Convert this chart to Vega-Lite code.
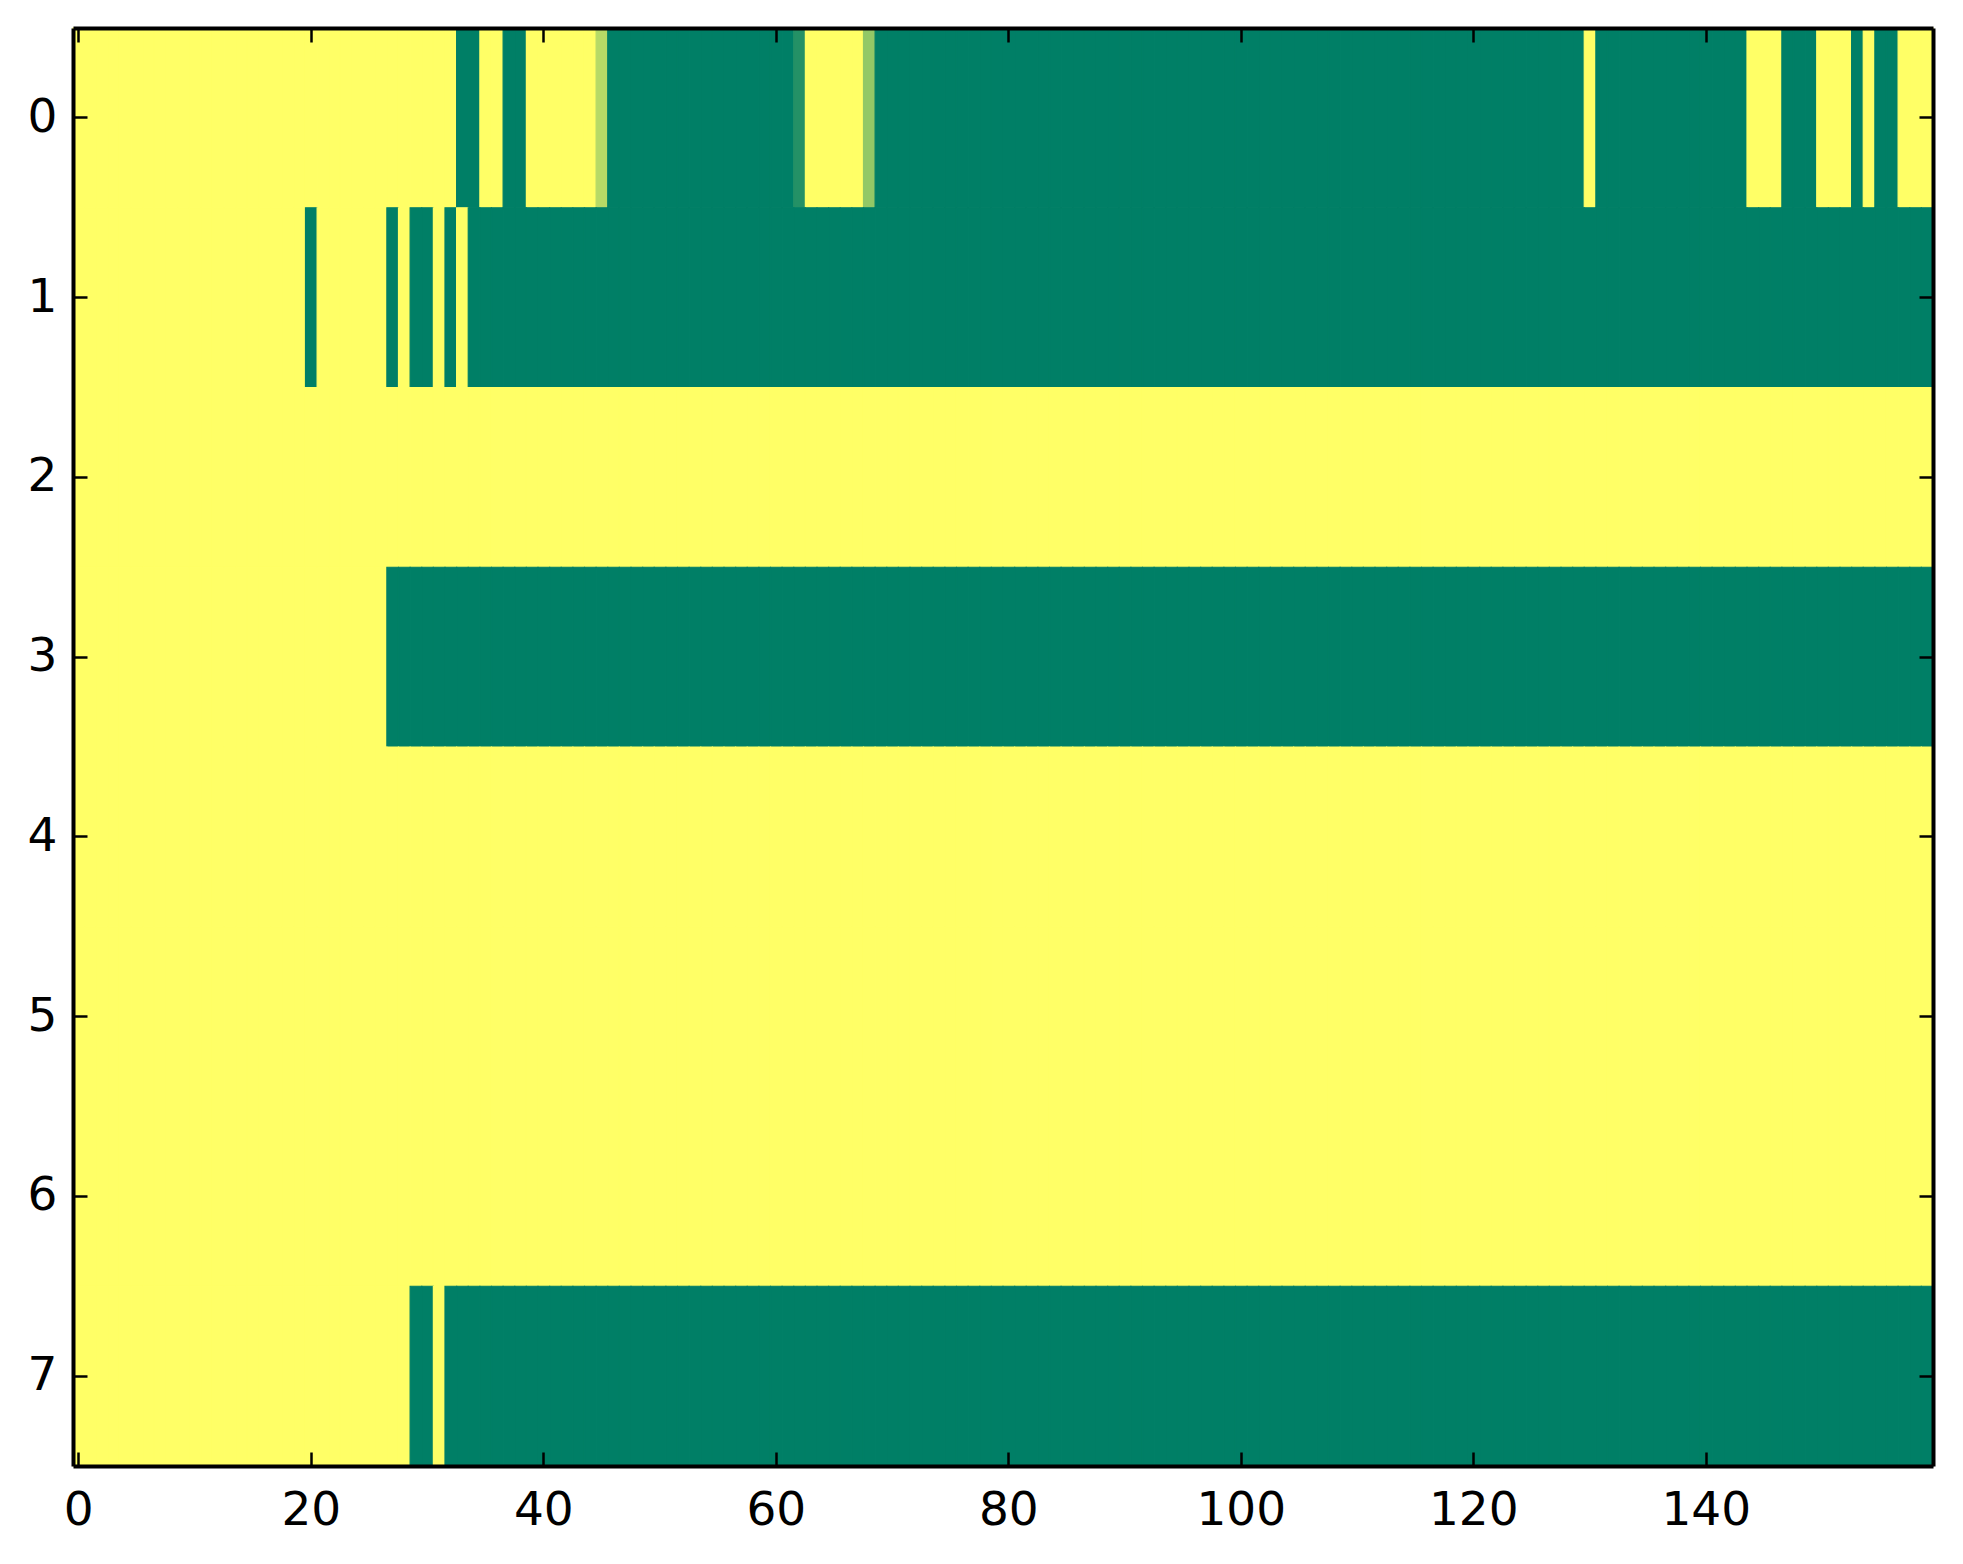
{
"$schema": "https://vega.github.io/schema/vega-lite/v6.json",
"width": 1860, "height": 1438,
"autosize": {"type": "none"},
"padding": {"left": 73, "top": 28, "right": 30, "bottom": 98},
"background": "white",
"config": {"view": {"stroke": null}, "axis": {"labelFont": "DejaVu Sans", "labelFontSize": 47, "labelColor": "black", "tickColor": "black", "domainColor": "black", "domainWidth": 4, "tickWidth": 2.5, "tickSize": -14, "grid": false, "title": null}},
"data": {"values": [
{"r":0,"c":0,"v":1},{"r":0,"c":1,"v":1},{"r":0,"c":2,"v":1},{"r":0,"c":3,"v":1},{"r":0,"c":4,"v":1},{"r":0,"c":5,"v":1},{"r":0,"c":6,"v":1},{"r":0,"c":7,"v":1},{"r":0,"c":8,"v":1},{"r":0,"c":9,"v":1},
{"r":0,"c":10,"v":1},{"r":0,"c":11,"v":1},{"r":0,"c":12,"v":1},{"r":0,"c":13,"v":1},{"r":0,"c":14,"v":1},{"r":0,"c":15,"v":1},{"r":0,"c":16,"v":1},{"r":0,"c":17,"v":1},{"r":0,"c":18,"v":1},{"r":0,"c":19,"v":1},
{"r":0,"c":20,"v":1},{"r":0,"c":21,"v":1},{"r":0,"c":22,"v":1},{"r":0,"c":23,"v":1},{"r":0,"c":24,"v":1},{"r":0,"c":25,"v":1},{"r":0,"c":26,"v":1},{"r":0,"c":27,"v":1},{"r":0,"c":28,"v":1},{"r":0,"c":29,"v":1},
{"r":0,"c":30,"v":1},{"r":0,"c":31,"v":1},{"r":0,"c":32,"v":1},{"r":0,"c":33,"v":0},{"r":0,"c":34,"v":0},{"r":0,"c":35,"v":1},{"r":0,"c":36,"v":1},{"r":0,"c":37,"v":0},{"r":0,"c":38,"v":0},{"r":0,"c":39,"v":1},
{"r":0,"c":40,"v":1},{"r":0,"c":41,"v":1},{"r":0,"c":42,"v":1},{"r":0,"c":43,"v":1},{"r":0,"c":44,"v":1},{"r":0,"c":45,"v":0.714},{"r":0,"c":46,"v":0},{"r":0,"c":47,"v":0},{"r":0,"c":48,"v":0},{"r":0,"c":49,"v":0},
{"r":0,"c":50,"v":0},{"r":0,"c":51,"v":0},{"r":0,"c":52,"v":0},{"r":0,"c":53,"v":0},{"r":0,"c":54,"v":0},{"r":0,"c":55,"v":0},{"r":0,"c":56,"v":0},{"r":0,"c":57,"v":0},{"r":0,"c":58,"v":0},{"r":0,"c":59,"v":0},
{"r":0,"c":60,"v":0},{"r":0,"c":61,"v":0},{"r":0,"c":62,"v":0.143},{"r":0,"c":63,"v":1},{"r":0,"c":64,"v":1},{"r":0,"c":65,"v":1},{"r":0,"c":66,"v":1},{"r":0,"c":67,"v":1},{"r":0,"c":68,"v":0.571},{"r":0,"c":69,"v":0},
{"r":0,"c":70,"v":0},{"r":0,"c":71,"v":0},{"r":0,"c":72,"v":0},{"r":0,"c":73,"v":0},{"r":0,"c":74,"v":0},{"r":0,"c":75,"v":0},{"r":0,"c":76,"v":0},{"r":0,"c":77,"v":0},{"r":0,"c":78,"v":0},{"r":0,"c":79,"v":0},
{"r":0,"c":80,"v":0},{"r":0,"c":81,"v":0},{"r":0,"c":82,"v":0},{"r":0,"c":83,"v":0},{"r":0,"c":84,"v":0},{"r":0,"c":85,"v":0},{"r":0,"c":86,"v":0},{"r":0,"c":87,"v":0},{"r":0,"c":88,"v":0},{"r":0,"c":89,"v":0},
{"r":0,"c":90,"v":0},{"r":0,"c":91,"v":0},{"r":0,"c":92,"v":0},{"r":0,"c":93,"v":0},{"r":0,"c":94,"v":0},{"r":0,"c":95,"v":0},{"r":0,"c":96,"v":0},{"r":0,"c":97,"v":0},{"r":0,"c":98,"v":0},{"r":0,"c":99,"v":0},
{"r":0,"c":100,"v":0},{"r":0,"c":101,"v":0},{"r":0,"c":102,"v":0},{"r":0,"c":103,"v":0},{"r":0,"c":104,"v":0},{"r":0,"c":105,"v":0},{"r":0,"c":106,"v":0},{"r":0,"c":107,"v":0},{"r":0,"c":108,"v":0},{"r":0,"c":109,"v":0},
{"r":0,"c":110,"v":0},{"r":0,"c":111,"v":0},{"r":0,"c":112,"v":0},{"r":0,"c":113,"v":0},{"r":0,"c":114,"v":0},{"r":0,"c":115,"v":0},{"r":0,"c":116,"v":0},{"r":0,"c":117,"v":0},{"r":0,"c":118,"v":0},{"r":0,"c":119,"v":0},
{"r":0,"c":120,"v":0},{"r":0,"c":121,"v":0},{"r":0,"c":122,"v":0},{"r":0,"c":123,"v":0},{"r":0,"c":124,"v":0},{"r":0,"c":125,"v":0},{"r":0,"c":126,"v":0},{"r":0,"c":127,"v":0},{"r":0,"c":128,"v":0},{"r":0,"c":129,"v":0},
{"r":0,"c":130,"v":1},{"r":0,"c":131,"v":0},{"r":0,"c":132,"v":0},{"r":0,"c":133,"v":0},{"r":0,"c":134,"v":0},{"r":0,"c":135,"v":0},{"r":0,"c":136,"v":0},{"r":0,"c":137,"v":0},{"r":0,"c":138,"v":0},{"r":0,"c":139,"v":0},
{"r":0,"c":140,"v":0},{"r":0,"c":141,"v":0},{"r":0,"c":142,"v":0},{"r":0,"c":143,"v":0},{"r":0,"c":144,"v":1},{"r":0,"c":145,"v":1},{"r":0,"c":146,"v":1},{"r":0,"c":147,"v":0},{"r":0,"c":148,"v":0},{"r":0,"c":149,"v":0},
{"r":0,"c":150,"v":1},{"r":0,"c":151,"v":1},{"r":0,"c":152,"v":1},{"r":0,"c":153,"v":0},{"r":0,"c":154,"v":1},{"r":0,"c":155,"v":0},{"r":0,"c":156,"v":0},{"r":0,"c":157,"v":1},{"r":0,"c":158,"v":1},{"r":0,"c":159,"v":1},
{"r":1,"c":0,"v":1},{"r":1,"c":1,"v":1},{"r":1,"c":2,"v":1},{"r":1,"c":3,"v":1},{"r":1,"c":4,"v":1},{"r":1,"c":5,"v":1},{"r":1,"c":6,"v":1},{"r":1,"c":7,"v":1},{"r":1,"c":8,"v":1},{"r":1,"c":9,"v":1},
{"r":1,"c":10,"v":1},{"r":1,"c":11,"v":1},{"r":1,"c":12,"v":1},{"r":1,"c":13,"v":1},{"r":1,"c":14,"v":1},{"r":1,"c":15,"v":1},{"r":1,"c":16,"v":1},{"r":1,"c":17,"v":1},{"r":1,"c":18,"v":1},{"r":1,"c":19,"v":1},
{"r":1,"c":20,"v":0},{"r":1,"c":21,"v":1},{"r":1,"c":22,"v":1},{"r":1,"c":23,"v":1},{"r":1,"c":24,"v":1},{"r":1,"c":25,"v":1},{"r":1,"c":26,"v":1},{"r":1,"c":27,"v":0},{"r":1,"c":28,"v":1},{"r":1,"c":29,"v":0},
{"r":1,"c":30,"v":0},{"r":1,"c":31,"v":1},{"r":1,"c":32,"v":0},{"r":1,"c":33,"v":1},{"r":1,"c":34,"v":0},{"r":1,"c":35,"v":0},{"r":1,"c":36,"v":0},{"r":1,"c":37,"v":0},{"r":1,"c":38,"v":0},{"r":1,"c":39,"v":0},
{"r":1,"c":40,"v":0},{"r":1,"c":41,"v":0},{"r":1,"c":42,"v":0},{"r":1,"c":43,"v":0},{"r":1,"c":44,"v":0},{"r":1,"c":45,"v":0},{"r":1,"c":46,"v":0},{"r":1,"c":47,"v":0},{"r":1,"c":48,"v":0},{"r":1,"c":49,"v":0},
{"r":1,"c":50,"v":0},{"r":1,"c":51,"v":0},{"r":1,"c":52,"v":0},{"r":1,"c":53,"v":0},{"r":1,"c":54,"v":0},{"r":1,"c":55,"v":0},{"r":1,"c":56,"v":0},{"r":1,"c":57,"v":0},{"r":1,"c":58,"v":0},{"r":1,"c":59,"v":0},
{"r":1,"c":60,"v":0},{"r":1,"c":61,"v":0},{"r":1,"c":62,"v":0},{"r":1,"c":63,"v":0},{"r":1,"c":64,"v":0},{"r":1,"c":65,"v":0},{"r":1,"c":66,"v":0},{"r":1,"c":67,"v":0},{"r":1,"c":68,"v":0},{"r":1,"c":69,"v":0},
{"r":1,"c":70,"v":0},{"r":1,"c":71,"v":0},{"r":1,"c":72,"v":0},{"r":1,"c":73,"v":0},{"r":1,"c":74,"v":0},{"r":1,"c":75,"v":0},{"r":1,"c":76,"v":0},{"r":1,"c":77,"v":0},{"r":1,"c":78,"v":0},{"r":1,"c":79,"v":0},
{"r":1,"c":80,"v":0},{"r":1,"c":81,"v":0},{"r":1,"c":82,"v":0},{"r":1,"c":83,"v":0},{"r":1,"c":84,"v":0},{"r":1,"c":85,"v":0},{"r":1,"c":86,"v":0},{"r":1,"c":87,"v":0},{"r":1,"c":88,"v":0},{"r":1,"c":89,"v":0},
{"r":1,"c":90,"v":0},{"r":1,"c":91,"v":0},{"r":1,"c":92,"v":0},{"r":1,"c":93,"v":0},{"r":1,"c":94,"v":0},{"r":1,"c":95,"v":0},{"r":1,"c":96,"v":0},{"r":1,"c":97,"v":0},{"r":1,"c":98,"v":0},{"r":1,"c":99,"v":0},
{"r":1,"c":100,"v":0},{"r":1,"c":101,"v":0},{"r":1,"c":102,"v":0},{"r":1,"c":103,"v":0},{"r":1,"c":104,"v":0},{"r":1,"c":105,"v":0},{"r":1,"c":106,"v":0},{"r":1,"c":107,"v":0},{"r":1,"c":108,"v":0},{"r":1,"c":109,"v":0},
{"r":1,"c":110,"v":0},{"r":1,"c":111,"v":0},{"r":1,"c":112,"v":0},{"r":1,"c":113,"v":0},{"r":1,"c":114,"v":0},{"r":1,"c":115,"v":0},{"r":1,"c":116,"v":0},{"r":1,"c":117,"v":0},{"r":1,"c":118,"v":0},{"r":1,"c":119,"v":0},
{"r":1,"c":120,"v":0},{"r":1,"c":121,"v":0},{"r":1,"c":122,"v":0},{"r":1,"c":123,"v":0},{"r":1,"c":124,"v":0},{"r":1,"c":125,"v":0},{"r":1,"c":126,"v":0},{"r":1,"c":127,"v":0},{"r":1,"c":128,"v":0},{"r":1,"c":129,"v":0},
{"r":1,"c":130,"v":0},{"r":1,"c":131,"v":0},{"r":1,"c":132,"v":0},{"r":1,"c":133,"v":0},{"r":1,"c":134,"v":0},{"r":1,"c":135,"v":0},{"r":1,"c":136,"v":0},{"r":1,"c":137,"v":0},{"r":1,"c":138,"v":0},{"r":1,"c":139,"v":0},
{"r":1,"c":140,"v":0},{"r":1,"c":141,"v":0},{"r":1,"c":142,"v":0},{"r":1,"c":143,"v":0},{"r":1,"c":144,"v":0},{"r":1,"c":145,"v":0},{"r":1,"c":146,"v":0},{"r":1,"c":147,"v":0},{"r":1,"c":148,"v":0},{"r":1,"c":149,"v":0},
{"r":1,"c":150,"v":0},{"r":1,"c":151,"v":0},{"r":1,"c":152,"v":0},{"r":1,"c":153,"v":0},{"r":1,"c":154,"v":0},{"r":1,"c":155,"v":0},{"r":1,"c":156,"v":0},{"r":1,"c":157,"v":0},{"r":1,"c":158,"v":0},{"r":1,"c":159,"v":0},
{"r":2,"c":0,"v":1},{"r":2,"c":1,"v":1},{"r":2,"c":2,"v":1},{"r":2,"c":3,"v":1},{"r":2,"c":4,"v":1},{"r":2,"c":5,"v":1},{"r":2,"c":6,"v":1},{"r":2,"c":7,"v":1},{"r":2,"c":8,"v":1},{"r":2,"c":9,"v":1},
{"r":2,"c":10,"v":1},{"r":2,"c":11,"v":1},{"r":2,"c":12,"v":1},{"r":2,"c":13,"v":1},{"r":2,"c":14,"v":1},{"r":2,"c":15,"v":1},{"r":2,"c":16,"v":1},{"r":2,"c":17,"v":1},{"r":2,"c":18,"v":1},{"r":2,"c":19,"v":1},
{"r":2,"c":20,"v":1},{"r":2,"c":21,"v":1},{"r":2,"c":22,"v":1},{"r":2,"c":23,"v":1},{"r":2,"c":24,"v":1},{"r":2,"c":25,"v":1},{"r":2,"c":26,"v":1},{"r":2,"c":27,"v":1},{"r":2,"c":28,"v":1},{"r":2,"c":29,"v":1},
{"r":2,"c":30,"v":1},{"r":2,"c":31,"v":1},{"r":2,"c":32,"v":1},{"r":2,"c":33,"v":1},{"r":2,"c":34,"v":1},{"r":2,"c":35,"v":1},{"r":2,"c":36,"v":1},{"r":2,"c":37,"v":1},{"r":2,"c":38,"v":1},{"r":2,"c":39,"v":1},
{"r":2,"c":40,"v":1},{"r":2,"c":41,"v":1},{"r":2,"c":42,"v":1},{"r":2,"c":43,"v":1},{"r":2,"c":44,"v":1},{"r":2,"c":45,"v":1},{"r":2,"c":46,"v":1},{"r":2,"c":47,"v":1},{"r":2,"c":48,"v":1},{"r":2,"c":49,"v":1},
{"r":2,"c":50,"v":1},{"r":2,"c":51,"v":1},{"r":2,"c":52,"v":1},{"r":2,"c":53,"v":1},{"r":2,"c":54,"v":1},{"r":2,"c":55,"v":1},{"r":2,"c":56,"v":1},{"r":2,"c":57,"v":1},{"r":2,"c":58,"v":1},{"r":2,"c":59,"v":1},
{"r":2,"c":60,"v":1},{"r":2,"c":61,"v":1},{"r":2,"c":62,"v":1},{"r":2,"c":63,"v":1},{"r":2,"c":64,"v":1},{"r":2,"c":65,"v":1},{"r":2,"c":66,"v":1},{"r":2,"c":67,"v":1},{"r":2,"c":68,"v":1},{"r":2,"c":69,"v":1},
{"r":2,"c":70,"v":1},{"r":2,"c":71,"v":1},{"r":2,"c":72,"v":1},{"r":2,"c":73,"v":1},{"r":2,"c":74,"v":1},{"r":2,"c":75,"v":1},{"r":2,"c":76,"v":1},{"r":2,"c":77,"v":1},{"r":2,"c":78,"v":1},{"r":2,"c":79,"v":1},
{"r":2,"c":80,"v":1},{"r":2,"c":81,"v":1},{"r":2,"c":82,"v":1},{"r":2,"c":83,"v":1},{"r":2,"c":84,"v":1},{"r":2,"c":85,"v":1},{"r":2,"c":86,"v":1},{"r":2,"c":87,"v":1},{"r":2,"c":88,"v":1},{"r":2,"c":89,"v":1},
{"r":2,"c":90,"v":1},{"r":2,"c":91,"v":1},{"r":2,"c":92,"v":1},{"r":2,"c":93,"v":1},{"r":2,"c":94,"v":1},{"r":2,"c":95,"v":1},{"r":2,"c":96,"v":1},{"r":2,"c":97,"v":1},{"r":2,"c":98,"v":1},{"r":2,"c":99,"v":1},
{"r":2,"c":100,"v":1},{"r":2,"c":101,"v":1},{"r":2,"c":102,"v":1},{"r":2,"c":103,"v":1},{"r":2,"c":104,"v":1},{"r":2,"c":105,"v":1},{"r":2,"c":106,"v":1},{"r":2,"c":107,"v":1},{"r":2,"c":108,"v":1},{"r":2,"c":109,"v":1},
{"r":2,"c":110,"v":1},{"r":2,"c":111,"v":1},{"r":2,"c":112,"v":1},{"r":2,"c":113,"v":1},{"r":2,"c":114,"v":1},{"r":2,"c":115,"v":1},{"r":2,"c":116,"v":1},{"r":2,"c":117,"v":1},{"r":2,"c":118,"v":1},{"r":2,"c":119,"v":1},
{"r":2,"c":120,"v":1},{"r":2,"c":121,"v":1},{"r":2,"c":122,"v":1},{"r":2,"c":123,"v":1},{"r":2,"c":124,"v":1},{"r":2,"c":125,"v":1},{"r":2,"c":126,"v":1},{"r":2,"c":127,"v":1},{"r":2,"c":128,"v":1},{"r":2,"c":129,"v":1},
{"r":2,"c":130,"v":1},{"r":2,"c":131,"v":1},{"r":2,"c":132,"v":1},{"r":2,"c":133,"v":1},{"r":2,"c":134,"v":1},{"r":2,"c":135,"v":1},{"r":2,"c":136,"v":1},{"r":2,"c":137,"v":1},{"r":2,"c":138,"v":1},{"r":2,"c":139,"v":1},
{"r":2,"c":140,"v":1},{"r":2,"c":141,"v":1},{"r":2,"c":142,"v":1},{"r":2,"c":143,"v":1},{"r":2,"c":144,"v":1},{"r":2,"c":145,"v":1},{"r":2,"c":146,"v":1},{"r":2,"c":147,"v":1},{"r":2,"c":148,"v":1},{"r":2,"c":149,"v":1},
{"r":2,"c":150,"v":1},{"r":2,"c":151,"v":1},{"r":2,"c":152,"v":1},{"r":2,"c":153,"v":1},{"r":2,"c":154,"v":1},{"r":2,"c":155,"v":1},{"r":2,"c":156,"v":1},{"r":2,"c":157,"v":1},{"r":2,"c":158,"v":1},{"r":2,"c":159,"v":1},
{"r":3,"c":0,"v":1},{"r":3,"c":1,"v":1},{"r":3,"c":2,"v":1},{"r":3,"c":3,"v":1},{"r":3,"c":4,"v":1},{"r":3,"c":5,"v":1},{"r":3,"c":6,"v":1},{"r":3,"c":7,"v":1},{"r":3,"c":8,"v":1},{"r":3,"c":9,"v":1},
{"r":3,"c":10,"v":1},{"r":3,"c":11,"v":1},{"r":3,"c":12,"v":1},{"r":3,"c":13,"v":1},{"r":3,"c":14,"v":1},{"r":3,"c":15,"v":1},{"r":3,"c":16,"v":1},{"r":3,"c":17,"v":1},{"r":3,"c":18,"v":1},{"r":3,"c":19,"v":1},
{"r":3,"c":20,"v":1},{"r":3,"c":21,"v":1},{"r":3,"c":22,"v":1},{"r":3,"c":23,"v":1},{"r":3,"c":24,"v":1},{"r":3,"c":25,"v":1},{"r":3,"c":26,"v":1},{"r":3,"c":27,"v":0},{"r":3,"c":28,"v":0},{"r":3,"c":29,"v":0},
{"r":3,"c":30,"v":0},{"r":3,"c":31,"v":0},{"r":3,"c":32,"v":0},{"r":3,"c":33,"v":0},{"r":3,"c":34,"v":0},{"r":3,"c":35,"v":0},{"r":3,"c":36,"v":0},{"r":3,"c":37,"v":0},{"r":3,"c":38,"v":0},{"r":3,"c":39,"v":0},
{"r":3,"c":40,"v":0},{"r":3,"c":41,"v":0},{"r":3,"c":42,"v":0},{"r":3,"c":43,"v":0},{"r":3,"c":44,"v":0},{"r":3,"c":45,"v":0},{"r":3,"c":46,"v":0},{"r":3,"c":47,"v":0},{"r":3,"c":48,"v":0},{"r":3,"c":49,"v":0},
{"r":3,"c":50,"v":0},{"r":3,"c":51,"v":0},{"r":3,"c":52,"v":0},{"r":3,"c":53,"v":0},{"r":3,"c":54,"v":0},{"r":3,"c":55,"v":0},{"r":3,"c":56,"v":0},{"r":3,"c":57,"v":0},{"r":3,"c":58,"v":0},{"r":3,"c":59,"v":0},
{"r":3,"c":60,"v":0},{"r":3,"c":61,"v":0},{"r":3,"c":62,"v":0},{"r":3,"c":63,"v":0},{"r":3,"c":64,"v":0},{"r":3,"c":65,"v":0},{"r":3,"c":66,"v":0},{"r":3,"c":67,"v":0},{"r":3,"c":68,"v":0},{"r":3,"c":69,"v":0},
{"r":3,"c":70,"v":0},{"r":3,"c":71,"v":0},{"r":3,"c":72,"v":0},{"r":3,"c":73,"v":0},{"r":3,"c":74,"v":0},{"r":3,"c":75,"v":0},{"r":3,"c":76,"v":0},{"r":3,"c":77,"v":0},{"r":3,"c":78,"v":0},{"r":3,"c":79,"v":0},
{"r":3,"c":80,"v":0},{"r":3,"c":81,"v":0},{"r":3,"c":82,"v":0},{"r":3,"c":83,"v":0},{"r":3,"c":84,"v":0},{"r":3,"c":85,"v":0},{"r":3,"c":86,"v":0},{"r":3,"c":87,"v":0},{"r":3,"c":88,"v":0},{"r":3,"c":89,"v":0},
{"r":3,"c":90,"v":0},{"r":3,"c":91,"v":0},{"r":3,"c":92,"v":0},{"r":3,"c":93,"v":0},{"r":3,"c":94,"v":0},{"r":3,"c":95,"v":0},{"r":3,"c":96,"v":0},{"r":3,"c":97,"v":0},{"r":3,"c":98,"v":0},{"r":3,"c":99,"v":0},
{"r":3,"c":100,"v":0},{"r":3,"c":101,"v":0},{"r":3,"c":102,"v":0},{"r":3,"c":103,"v":0},{"r":3,"c":104,"v":0},{"r":3,"c":105,"v":0},{"r":3,"c":106,"v":0},{"r":3,"c":107,"v":0},{"r":3,"c":108,"v":0},{"r":3,"c":109,"v":0},
{"r":3,"c":110,"v":0},{"r":3,"c":111,"v":0},{"r":3,"c":112,"v":0},{"r":3,"c":113,"v":0},{"r":3,"c":114,"v":0},{"r":3,"c":115,"v":0},{"r":3,"c":116,"v":0},{"r":3,"c":117,"v":0},{"r":3,"c":118,"v":0},{"r":3,"c":119,"v":0},
{"r":3,"c":120,"v":0},{"r":3,"c":121,"v":0},{"r":3,"c":122,"v":0},{"r":3,"c":123,"v":0},{"r":3,"c":124,"v":0},{"r":3,"c":125,"v":0},{"r":3,"c":126,"v":0},{"r":3,"c":127,"v":0},{"r":3,"c":128,"v":0},{"r":3,"c":129,"v":0},
{"r":3,"c":130,"v":0},{"r":3,"c":131,"v":0},{"r":3,"c":132,"v":0},{"r":3,"c":133,"v":0},{"r":3,"c":134,"v":0},{"r":3,"c":135,"v":0},{"r":3,"c":136,"v":0},{"r":3,"c":137,"v":0},{"r":3,"c":138,"v":0},{"r":3,"c":139,"v":0},
{"r":3,"c":140,"v":0},{"r":3,"c":141,"v":0},{"r":3,"c":142,"v":0},{"r":3,"c":143,"v":0},{"r":3,"c":144,"v":0},{"r":3,"c":145,"v":0},{"r":3,"c":146,"v":0},{"r":3,"c":147,"v":0},{"r":3,"c":148,"v":0},{"r":3,"c":149,"v":0},
{"r":3,"c":150,"v":0},{"r":3,"c":151,"v":0},{"r":3,"c":152,"v":0},{"r":3,"c":153,"v":0},{"r":3,"c":154,"v":0},{"r":3,"c":155,"v":0},{"r":3,"c":156,"v":0},{"r":3,"c":157,"v":0},{"r":3,"c":158,"v":0},{"r":3,"c":159,"v":0},
{"r":4,"c":0,"v":1},{"r":4,"c":1,"v":1},{"r":4,"c":2,"v":1},{"r":4,"c":3,"v":1},{"r":4,"c":4,"v":1},{"r":4,"c":5,"v":1},{"r":4,"c":6,"v":1},{"r":4,"c":7,"v":1},{"r":4,"c":8,"v":1},{"r":4,"c":9,"v":1},
{"r":4,"c":10,"v":1},{"r":4,"c":11,"v":1},{"r":4,"c":12,"v":1},{"r":4,"c":13,"v":1},{"r":4,"c":14,"v":1},{"r":4,"c":15,"v":1},{"r":4,"c":16,"v":1},{"r":4,"c":17,"v":1},{"r":4,"c":18,"v":1},{"r":4,"c":19,"v":1},
{"r":4,"c":20,"v":1},{"r":4,"c":21,"v":1},{"r":4,"c":22,"v":1},{"r":4,"c":23,"v":1},{"r":4,"c":24,"v":1},{"r":4,"c":25,"v":1},{"r":4,"c":26,"v":1},{"r":4,"c":27,"v":1},{"r":4,"c":28,"v":1},{"r":4,"c":29,"v":1},
{"r":4,"c":30,"v":1},{"r":4,"c":31,"v":1},{"r":4,"c":32,"v":1},{"r":4,"c":33,"v":1},{"r":4,"c":34,"v":1},{"r":4,"c":35,"v":1},{"r":4,"c":36,"v":1},{"r":4,"c":37,"v":1},{"r":4,"c":38,"v":1},{"r":4,"c":39,"v":1},
{"r":4,"c":40,"v":1},{"r":4,"c":41,"v":1},{"r":4,"c":42,"v":1},{"r":4,"c":43,"v":1},{"r":4,"c":44,"v":1},{"r":4,"c":45,"v":1},{"r":4,"c":46,"v":1},{"r":4,"c":47,"v":1},{"r":4,"c":48,"v":1},{"r":4,"c":49,"v":1},
{"r":4,"c":50,"v":1},{"r":4,"c":51,"v":1},{"r":4,"c":52,"v":1},{"r":4,"c":53,"v":1},{"r":4,"c":54,"v":1},{"r":4,"c":55,"v":1},{"r":4,"c":56,"v":1},{"r":4,"c":57,"v":1},{"r":4,"c":58,"v":1},{"r":4,"c":59,"v":1},
{"r":4,"c":60,"v":1},{"r":4,"c":61,"v":1},{"r":4,"c":62,"v":1},{"r":4,"c":63,"v":1},{"r":4,"c":64,"v":1},{"r":4,"c":65,"v":1},{"r":4,"c":66,"v":1},{"r":4,"c":67,"v":1},{"r":4,"c":68,"v":1},{"r":4,"c":69,"v":1},
{"r":4,"c":70,"v":1},{"r":4,"c":71,"v":1},{"r":4,"c":72,"v":1},{"r":4,"c":73,"v":1},{"r":4,"c":74,"v":1},{"r":4,"c":75,"v":1},{"r":4,"c":76,"v":1},{"r":4,"c":77,"v":1},{"r":4,"c":78,"v":1},{"r":4,"c":79,"v":1},
{"r":4,"c":80,"v":1},{"r":4,"c":81,"v":1},{"r":4,"c":82,"v":1},{"r":4,"c":83,"v":1},{"r":4,"c":84,"v":1},{"r":4,"c":85,"v":1},{"r":4,"c":86,"v":1},{"r":4,"c":87,"v":1},{"r":4,"c":88,"v":1},{"r":4,"c":89,"v":1},
{"r":4,"c":90,"v":1},{"r":4,"c":91,"v":1},{"r":4,"c":92,"v":1},{"r":4,"c":93,"v":1},{"r":4,"c":94,"v":1},{"r":4,"c":95,"v":1},{"r":4,"c":96,"v":1},{"r":4,"c":97,"v":1},{"r":4,"c":98,"v":1},{"r":4,"c":99,"v":1},
{"r":4,"c":100,"v":1},{"r":4,"c":101,"v":1},{"r":4,"c":102,"v":1},{"r":4,"c":103,"v":1},{"r":4,"c":104,"v":1},{"r":4,"c":105,"v":1},{"r":4,"c":106,"v":1},{"r":4,"c":107,"v":1},{"r":4,"c":108,"v":1},{"r":4,"c":109,"v":1},
{"r":4,"c":110,"v":1},{"r":4,"c":111,"v":1},{"r":4,"c":112,"v":1},{"r":4,"c":113,"v":1},{"r":4,"c":114,"v":1},{"r":4,"c":115,"v":1},{"r":4,"c":116,"v":1},{"r":4,"c":117,"v":1},{"r":4,"c":118,"v":1},{"r":4,"c":119,"v":1},
{"r":4,"c":120,"v":1},{"r":4,"c":121,"v":1},{"r":4,"c":122,"v":1},{"r":4,"c":123,"v":1},{"r":4,"c":124,"v":1},{"r":4,"c":125,"v":1},{"r":4,"c":126,"v":1},{"r":4,"c":127,"v":1},{"r":4,"c":128,"v":1},{"r":4,"c":129,"v":1},
{"r":4,"c":130,"v":1},{"r":4,"c":131,"v":1},{"r":4,"c":132,"v":1},{"r":4,"c":133,"v":1},{"r":4,"c":134,"v":1},{"r":4,"c":135,"v":1},{"r":4,"c":136,"v":1},{"r":4,"c":137,"v":1},{"r":4,"c":138,"v":1},{"r":4,"c":139,"v":1},
{"r":4,"c":140,"v":1},{"r":4,"c":141,"v":1},{"r":4,"c":142,"v":1},{"r":4,"c":143,"v":1},{"r":4,"c":144,"v":1},{"r":4,"c":145,"v":1},{"r":4,"c":146,"v":1},{"r":4,"c":147,"v":1},{"r":4,"c":148,"v":1},{"r":4,"c":149,"v":1},
{"r":4,"c":150,"v":1},{"r":4,"c":151,"v":1},{"r":4,"c":152,"v":1},{"r":4,"c":153,"v":1},{"r":4,"c":154,"v":1},{"r":4,"c":155,"v":1},{"r":4,"c":156,"v":1},{"r":4,"c":157,"v":1},{"r":4,"c":158,"v":1},{"r":4,"c":159,"v":1},
{"r":5,"c":0,"v":1},{"r":5,"c":1,"v":1},{"r":5,"c":2,"v":1},{"r":5,"c":3,"v":1},{"r":5,"c":4,"v":1},{"r":5,"c":5,"v":1},{"r":5,"c":6,"v":1},{"r":5,"c":7,"v":1},{"r":5,"c":8,"v":1},{"r":5,"c":9,"v":1},
{"r":5,"c":10,"v":1},{"r":5,"c":11,"v":1},{"r":5,"c":12,"v":1},{"r":5,"c":13,"v":1},{"r":5,"c":14,"v":1},{"r":5,"c":15,"v":1},{"r":5,"c":16,"v":1},{"r":5,"c":17,"v":1},{"r":5,"c":18,"v":1},{"r":5,"c":19,"v":1},
{"r":5,"c":20,"v":1},{"r":5,"c":21,"v":1},{"r":5,"c":22,"v":1},{"r":5,"c":23,"v":1},{"r":5,"c":24,"v":1},{"r":5,"c":25,"v":1},{"r":5,"c":26,"v":1},{"r":5,"c":27,"v":1},{"r":5,"c":28,"v":1},{"r":5,"c":29,"v":1},
{"r":5,"c":30,"v":1},{"r":5,"c":31,"v":1},{"r":5,"c":32,"v":1},{"r":5,"c":33,"v":1},{"r":5,"c":34,"v":1},{"r":5,"c":35,"v":1},{"r":5,"c":36,"v":1},{"r":5,"c":37,"v":1},{"r":5,"c":38,"v":1},{"r":5,"c":39,"v":1},
{"r":5,"c":40,"v":1},{"r":5,"c":41,"v":1},{"r":5,"c":42,"v":1},{"r":5,"c":43,"v":1},{"r":5,"c":44,"v":1},{"r":5,"c":45,"v":1},{"r":5,"c":46,"v":1},{"r":5,"c":47,"v":1},{"r":5,"c":48,"v":1},{"r":5,"c":49,"v":1},
{"r":5,"c":50,"v":1},{"r":5,"c":51,"v":1},{"r":5,"c":52,"v":1},{"r":5,"c":53,"v":1},{"r":5,"c":54,"v":1},{"r":5,"c":55,"v":1},{"r":5,"c":56,"v":1},{"r":5,"c":57,"v":1},{"r":5,"c":58,"v":1},{"r":5,"c":59,"v":1},
{"r":5,"c":60,"v":1},{"r":5,"c":61,"v":1},{"r":5,"c":62,"v":1},{"r":5,"c":63,"v":1},{"r":5,"c":64,"v":1},{"r":5,"c":65,"v":1},{"r":5,"c":66,"v":1},{"r":5,"c":67,"v":1},{"r":5,"c":68,"v":1},{"r":5,"c":69,"v":1},
{"r":5,"c":70,"v":1},{"r":5,"c":71,"v":1},{"r":5,"c":72,"v":1},{"r":5,"c":73,"v":1},{"r":5,"c":74,"v":1},{"r":5,"c":75,"v":1},{"r":5,"c":76,"v":1},{"r":5,"c":77,"v":1},{"r":5,"c":78,"v":1},{"r":5,"c":79,"v":1},
{"r":5,"c":80,"v":1},{"r":5,"c":81,"v":1},{"r":5,"c":82,"v":1},{"r":5,"c":83,"v":1},{"r":5,"c":84,"v":1},{"r":5,"c":85,"v":1},{"r":5,"c":86,"v":1},{"r":5,"c":87,"v":1},{"r":5,"c":88,"v":1},{"r":5,"c":89,"v":1},
{"r":5,"c":90,"v":1},{"r":5,"c":91,"v":1},{"r":5,"c":92,"v":1},{"r":5,"c":93,"v":1},{"r":5,"c":94,"v":1},{"r":5,"c":95,"v":1},{"r":5,"c":96,"v":1},{"r":5,"c":97,"v":1},{"r":5,"c":98,"v":1},{"r":5,"c":99,"v":1},
{"r":5,"c":100,"v":1},{"r":5,"c":101,"v":1},{"r":5,"c":102,"v":1},{"r":5,"c":103,"v":1},{"r":5,"c":104,"v":1},{"r":5,"c":105,"v":1},{"r":5,"c":106,"v":1},{"r":5,"c":107,"v":1},{"r":5,"c":108,"v":1},{"r":5,"c":109,"v":1},
{"r":5,"c":110,"v":1},{"r":5,"c":111,"v":1},{"r":5,"c":112,"v":1},{"r":5,"c":113,"v":1},{"r":5,"c":114,"v":1},{"r":5,"c":115,"v":1},{"r":5,"c":116,"v":1},{"r":5,"c":117,"v":1},{"r":5,"c":118,"v":1},{"r":5,"c":119,"v":1},
{"r":5,"c":120,"v":1},{"r":5,"c":121,"v":1},{"r":5,"c":122,"v":1},{"r":5,"c":123,"v":1},{"r":5,"c":124,"v":1},{"r":5,"c":125,"v":1},{"r":5,"c":126,"v":1},{"r":5,"c":127,"v":1},{"r":5,"c":128,"v":1},{"r":5,"c":129,"v":1},
{"r":5,"c":130,"v":1},{"r":5,"c":131,"v":1},{"r":5,"c":132,"v":1},{"r":5,"c":133,"v":1},{"r":5,"c":134,"v":1},{"r":5,"c":135,"v":1},{"r":5,"c":136,"v":1},{"r":5,"c":137,"v":1},{"r":5,"c":138,"v":1},{"r":5,"c":139,"v":1},
{"r":5,"c":140,"v":1},{"r":5,"c":141,"v":1},{"r":5,"c":142,"v":1},{"r":5,"c":143,"v":1},{"r":5,"c":144,"v":1},{"r":5,"c":145,"v":1},{"r":5,"c":146,"v":1},{"r":5,"c":147,"v":1},{"r":5,"c":148,"v":1},{"r":5,"c":149,"v":1},
{"r":5,"c":150,"v":1},{"r":5,"c":151,"v":1},{"r":5,"c":152,"v":1},{"r":5,"c":153,"v":1},{"r":5,"c":154,"v":1},{"r":5,"c":155,"v":1},{"r":5,"c":156,"v":1},{"r":5,"c":157,"v":1},{"r":5,"c":158,"v":1},{"r":5,"c":159,"v":1},
{"r":6,"c":0,"v":1},{"r":6,"c":1,"v":1},{"r":6,"c":2,"v":1},{"r":6,"c":3,"v":1},{"r":6,"c":4,"v":1},{"r":6,"c":5,"v":1},{"r":6,"c":6,"v":1},{"r":6,"c":7,"v":1},{"r":6,"c":8,"v":1},{"r":6,"c":9,"v":1},
{"r":6,"c":10,"v":1},{"r":6,"c":11,"v":1},{"r":6,"c":12,"v":1},{"r":6,"c":13,"v":1},{"r":6,"c":14,"v":1},{"r":6,"c":15,"v":1},{"r":6,"c":16,"v":1},{"r":6,"c":17,"v":1},{"r":6,"c":18,"v":1},{"r":6,"c":19,"v":1},
{"r":6,"c":20,"v":1},{"r":6,"c":21,"v":1},{"r":6,"c":22,"v":1},{"r":6,"c":23,"v":1},{"r":6,"c":24,"v":1},{"r":6,"c":25,"v":1},{"r":6,"c":26,"v":1},{"r":6,"c":27,"v":1},{"r":6,"c":28,"v":1},{"r":6,"c":29,"v":1},
{"r":6,"c":30,"v":1},{"r":6,"c":31,"v":1},{"r":6,"c":32,"v":1},{"r":6,"c":33,"v":1},{"r":6,"c":34,"v":1},{"r":6,"c":35,"v":1},{"r":6,"c":36,"v":1},{"r":6,"c":37,"v":1},{"r":6,"c":38,"v":1},{"r":6,"c":39,"v":1},
{"r":6,"c":40,"v":1},{"r":6,"c":41,"v":1},{"r":6,"c":42,"v":1},{"r":6,"c":43,"v":1},{"r":6,"c":44,"v":1},{"r":6,"c":45,"v":1},{"r":6,"c":46,"v":1},{"r":6,"c":47,"v":1},{"r":6,"c":48,"v":1},{"r":6,"c":49,"v":1},
{"r":6,"c":50,"v":1},{"r":6,"c":51,"v":1},{"r":6,"c":52,"v":1},{"r":6,"c":53,"v":1},{"r":6,"c":54,"v":1},{"r":6,"c":55,"v":1},{"r":6,"c":56,"v":1},{"r":6,"c":57,"v":1},{"r":6,"c":58,"v":1},{"r":6,"c":59,"v":1},
{"r":6,"c":60,"v":1},{"r":6,"c":61,"v":1},{"r":6,"c":62,"v":1},{"r":6,"c":63,"v":1},{"r":6,"c":64,"v":1},{"r":6,"c":65,"v":1},{"r":6,"c":66,"v":1},{"r":6,"c":67,"v":1},{"r":6,"c":68,"v":1},{"r":6,"c":69,"v":1},
{"r":6,"c":70,"v":1},{"r":6,"c":71,"v":1},{"r":6,"c":72,"v":1},{"r":6,"c":73,"v":1},{"r":6,"c":74,"v":1},{"r":6,"c":75,"v":1},{"r":6,"c":76,"v":1},{"r":6,"c":77,"v":1},{"r":6,"c":78,"v":1},{"r":6,"c":79,"v":1},
{"r":6,"c":80,"v":1},{"r":6,"c":81,"v":1},{"r":6,"c":82,"v":1},{"r":6,"c":83,"v":1},{"r":6,"c":84,"v":1},{"r":6,"c":85,"v":1},{"r":6,"c":86,"v":1},{"r":6,"c":87,"v":1},{"r":6,"c":88,"v":1},{"r":6,"c":89,"v":1},
{"r":6,"c":90,"v":1},{"r":6,"c":91,"v":1},{"r":6,"c":92,"v":1},{"r":6,"c":93,"v":1},{"r":6,"c":94,"v":1},{"r":6,"c":95,"v":1},{"r":6,"c":96,"v":1},{"r":6,"c":97,"v":1},{"r":6,"c":98,"v":1},{"r":6,"c":99,"v":1},
{"r":6,"c":100,"v":1},{"r":6,"c":101,"v":1},{"r":6,"c":102,"v":1},{"r":6,"c":103,"v":1},{"r":6,"c":104,"v":1},{"r":6,"c":105,"v":1},{"r":6,"c":106,"v":1},{"r":6,"c":107,"v":1},{"r":6,"c":108,"v":1},{"r":6,"c":109,"v":1},
{"r":6,"c":110,"v":1},{"r":6,"c":111,"v":1},{"r":6,"c":112,"v":1},{"r":6,"c":113,"v":1},{"r":6,"c":114,"v":1},{"r":6,"c":115,"v":1},{"r":6,"c":116,"v":1},{"r":6,"c":117,"v":1},{"r":6,"c":118,"v":1},{"r":6,"c":119,"v":1},
{"r":6,"c":120,"v":1},{"r":6,"c":121,"v":1},{"r":6,"c":122,"v":1},{"r":6,"c":123,"v":1},{"r":6,"c":124,"v":1},{"r":6,"c":125,"v":1},{"r":6,"c":126,"v":1},{"r":6,"c":127,"v":1},{"r":6,"c":128,"v":1},{"r":6,"c":129,"v":1},
{"r":6,"c":130,"v":1},{"r":6,"c":131,"v":1},{"r":6,"c":132,"v":1},{"r":6,"c":133,"v":1},{"r":6,"c":134,"v":1},{"r":6,"c":135,"v":1},{"r":6,"c":136,"v":1},{"r":6,"c":137,"v":1},{"r":6,"c":138,"v":1},{"r":6,"c":139,"v":1},
{"r":6,"c":140,"v":1},{"r":6,"c":141,"v":1},{"r":6,"c":142,"v":1},{"r":6,"c":143,"v":1},{"r":6,"c":144,"v":1},{"r":6,"c":145,"v":1},{"r":6,"c":146,"v":1},{"r":6,"c":147,"v":1},{"r":6,"c":148,"v":1},{"r":6,"c":149,"v":1},
{"r":6,"c":150,"v":1},{"r":6,"c":151,"v":1},{"r":6,"c":152,"v":1},{"r":6,"c":153,"v":1},{"r":6,"c":154,"v":1},{"r":6,"c":155,"v":1},{"r":6,"c":156,"v":1},{"r":6,"c":157,"v":1},{"r":6,"c":158,"v":1},{"r":6,"c":159,"v":1},
{"r":7,"c":0,"v":1},{"r":7,"c":1,"v":1},{"r":7,"c":2,"v":1},{"r":7,"c":3,"v":1},{"r":7,"c":4,"v":1},{"r":7,"c":5,"v":1},{"r":7,"c":6,"v":1},{"r":7,"c":7,"v":1},{"r":7,"c":8,"v":1},{"r":7,"c":9,"v":1},
{"r":7,"c":10,"v":1},{"r":7,"c":11,"v":1},{"r":7,"c":12,"v":1},{"r":7,"c":13,"v":1},{"r":7,"c":14,"v":1},{"r":7,"c":15,"v":1},{"r":7,"c":16,"v":1},{"r":7,"c":17,"v":1},{"r":7,"c":18,"v":1},{"r":7,"c":19,"v":1},
{"r":7,"c":20,"v":1},{"r":7,"c":21,"v":1},{"r":7,"c":22,"v":1},{"r":7,"c":23,"v":1},{"r":7,"c":24,"v":1},{"r":7,"c":25,"v":1},{"r":7,"c":26,"v":1},{"r":7,"c":27,"v":1},{"r":7,"c":28,"v":1},{"r":7,"c":29,"v":0},
{"r":7,"c":30,"v":0},{"r":7,"c":31,"v":1},{"r":7,"c":32,"v":0},{"r":7,"c":33,"v":0},{"r":7,"c":34,"v":0},{"r":7,"c":35,"v":0},{"r":7,"c":36,"v":0},{"r":7,"c":37,"v":0},{"r":7,"c":38,"v":0},{"r":7,"c":39,"v":0},
{"r":7,"c":40,"v":0},{"r":7,"c":41,"v":0},{"r":7,"c":42,"v":0},{"r":7,"c":43,"v":0},{"r":7,"c":44,"v":0},{"r":7,"c":45,"v":0},{"r":7,"c":46,"v":0},{"r":7,"c":47,"v":0},{"r":7,"c":48,"v":0},{"r":7,"c":49,"v":0},
{"r":7,"c":50,"v":0},{"r":7,"c":51,"v":0},{"r":7,"c":52,"v":0},{"r":7,"c":53,"v":0},{"r":7,"c":54,"v":0},{"r":7,"c":55,"v":0},{"r":7,"c":56,"v":0},{"r":7,"c":57,"v":0},{"r":7,"c":58,"v":0},{"r":7,"c":59,"v":0},
{"r":7,"c":60,"v":0},{"r":7,"c":61,"v":0},{"r":7,"c":62,"v":0},{"r":7,"c":63,"v":0},{"r":7,"c":64,"v":0},{"r":7,"c":65,"v":0},{"r":7,"c":66,"v":0},{"r":7,"c":67,"v":0},{"r":7,"c":68,"v":0},{"r":7,"c":69,"v":0},
{"r":7,"c":70,"v":0},{"r":7,"c":71,"v":0},{"r":7,"c":72,"v":0},{"r":7,"c":73,"v":0},{"r":7,"c":74,"v":0},{"r":7,"c":75,"v":0},{"r":7,"c":76,"v":0},{"r":7,"c":77,"v":0},{"r":7,"c":78,"v":0},{"r":7,"c":79,"v":0},
{"r":7,"c":80,"v":0},{"r":7,"c":81,"v":0},{"r":7,"c":82,"v":0},{"r":7,"c":83,"v":0},{"r":7,"c":84,"v":0},{"r":7,"c":85,"v":0},{"r":7,"c":86,"v":0},{"r":7,"c":87,"v":0},{"r":7,"c":88,"v":0},{"r":7,"c":89,"v":0},
{"r":7,"c":90,"v":0},{"r":7,"c":91,"v":0},{"r":7,"c":92,"v":0},{"r":7,"c":93,"v":0},{"r":7,"c":94,"v":0},{"r":7,"c":95,"v":0},{"r":7,"c":96,"v":0},{"r":7,"c":97,"v":0},{"r":7,"c":98,"v":0},{"r":7,"c":99,"v":0},
{"r":7,"c":100,"v":0},{"r":7,"c":101,"v":0},{"r":7,"c":102,"v":0},{"r":7,"c":103,"v":0},{"r":7,"c":104,"v":0},{"r":7,"c":105,"v":0},{"r":7,"c":106,"v":0},{"r":7,"c":107,"v":0},{"r":7,"c":108,"v":0},{"r":7,"c":109,"v":0},
{"r":7,"c":110,"v":0},{"r":7,"c":111,"v":0},{"r":7,"c":112,"v":0},{"r":7,"c":113,"v":0},{"r":7,"c":114,"v":0},{"r":7,"c":115,"v":0},{"r":7,"c":116,"v":0},{"r":7,"c":117,"v":0},{"r":7,"c":118,"v":0},{"r":7,"c":119,"v":0},
{"r":7,"c":120,"v":0},{"r":7,"c":121,"v":0},{"r":7,"c":122,"v":0},{"r":7,"c":123,"v":0},{"r":7,"c":124,"v":0},{"r":7,"c":125,"v":0},{"r":7,"c":126,"v":0},{"r":7,"c":127,"v":0},{"r":7,"c":128,"v":0},{"r":7,"c":129,"v":0},
{"r":7,"c":130,"v":0},{"r":7,"c":131,"v":0},{"r":7,"c":132,"v":0},{"r":7,"c":133,"v":0},{"r":7,"c":134,"v":0},{"r":7,"c":135,"v":0},{"r":7,"c":136,"v":0},{"r":7,"c":137,"v":0},{"r":7,"c":138,"v":0},{"r":7,"c":139,"v":0},
{"r":7,"c":140,"v":0},{"r":7,"c":141,"v":0},{"r":7,"c":142,"v":0},{"r":7,"c":143,"v":0},{"r":7,"c":144,"v":0},{"r":7,"c":145,"v":0},{"r":7,"c":146,"v":0},{"r":7,"c":147,"v":0},{"r":7,"c":148,"v":0},{"r":7,"c":149,"v":0},
{"r":7,"c":150,"v":0},{"r":7,"c":151,"v":0},{"r":7,"c":152,"v":0},{"r":7,"c":153,"v":0},{"r":7,"c":154,"v":0},{"r":7,"c":155,"v":0},{"r":7,"c":156,"v":0},{"r":7,"c":157,"v":0},{"r":7,"c":158,"v":0},{"r":7,"c":159,"v":0}
]},
"layer": [
{"mark": {"type": "rect", "strokeWidth": 1.2},
 "encoding": {
  "x": {"field": "c", "type": "ordinal", "scale": {"paddingInner": 0, "paddingOuter": 0}, "axis": {"orient": "bottom", "values": [0,20,40,60,80,100,120,140], "labelAngle": 0, "labelPadding": 35, "labelBaseline": "top"}},
  "y": {"field": "r", "type": "ordinal", "scale": {"paddingInner": 0, "paddingOuter": 0}, "axis": {"orient": "left", "labelPadding": 30, "labelAngle": 0}},
  "color": {"field": "v", "type": "quantitative", "scale": {"domain": [0,1], "range": ["#007f66","#ffff66"], "interpolate": "rgb"}, "legend": null},
  "stroke": {"field": "v", "type": "quantitative", "scale": {"domain": [0,1], "range": ["#007f66","#ffff66"], "interpolate": "rgb"}, "legend": null}
 }},
{"mark": {"type": "rect", "opacity": 0},
 "encoding": {
  "x": {"field": "c", "type": "ordinal", "axis": {"orient": "top", "values": [0,20,40,60,80,100,120,140], "labels": false}},
  "y": {"field": "r", "type": "ordinal", "axis": {"orient": "right", "labels": false}}
 }}
],
"resolve": {"axis": {"x": "independent", "y": "independent"}}
}
